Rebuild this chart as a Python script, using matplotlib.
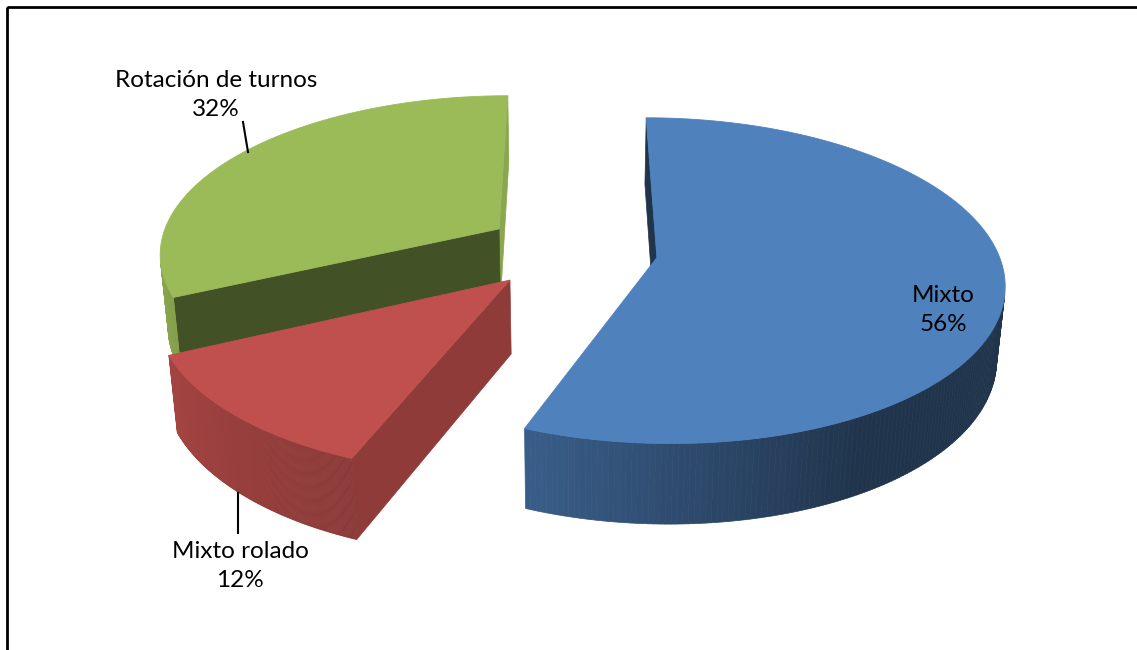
import numpy as np
import matplotlib
matplotlib.use("Agg")
import matplotlib.pyplot as plt
from matplotlib.patches import Polygon, Rectangle
from matplotlib.colors import to_rgb

# data
labels = ["Mixto", "Mixto rolado", "Rotación de turnos"]
values = [56, 12, 32]
colors = ["#4F81BD", "#C0504D", "#9BBB59"]

# 3d view settings (pixels)
ELEV = np.radians(29.5)
DIST = 6.3
SCALE = 334
HEIGHT = 0.245
EXPLODE = 0.255
CX, CY = 571, 250
F = SCALE * DIST
CY0 = CY + F * HEIGHT * np.cos(ELEV) / (DIST - HEIGHT * np.sin(ELEV))


def project(u, v, z):
    depth = DIST + v * np.cos(ELEV) - z * np.sin(ELEV)
    x = CX + F * u / depth
    y = CY0 - F * (v * np.sin(ELEV) + z * np.cos(ELEV)) / depth
    return x, y, depth


def wall_shade(phi):
    phi = (phi + 180) % 360 - 180
    return np.interp(phi, [-180, -110, -60, 60, 180], [0.93, 0.72, 0.40, 0.40, 0.93])


def cut_shade(phi):
    phi = (phi + 180) % 360 - 180
    return np.interp(phi, [-180, -65, 0, 90, 180], [0.40, 0.43, 0.89, 0.6, 0.40])


def shade(col, f):
    return tuple(min(1, c * f) for c in to_rgb(col))


def face(pts):
    pts = np.array(pts)
    x, y, d = project(pts[:, 0], pts[:, 1], pts[:, 2])
    # signed area with y pointing up
    yu = -y
    area = 0.5 * np.sum(x * np.roll(yu, -1) - np.roll(x, -1) * yu)
    return np.column_stack([x, y]), area, d.mean()


fig = plt.figure(figsize=(11.37, 6.5), dpi=100)
ax = fig.add_axes([0, 0, 1, 1])
ax.set_xlim(0, 1137)
ax.set_ylim(650, 0)
ax.axis("off")

# slice angles, first slice starts at 12 o'clock and runs clockwise
total = sum(values)
starts = 90 - 360 * np.concatenate([[0], np.cumsum(values)[:-1]]) / total
ends = starts - 360 * np.array(values) / total

slices = []
for i in range(len(values)):
    a0, a1 = np.radians(ends[i]), np.radians(starts[i])
    mid = (a0 + a1) / 2
    ox, oy = EXPLODE * np.cos(mid), EXPLODE * np.sin(mid)
    slices.append((oy, i, a0, a1, ox))

# far slices first
for oy, i, a0, a1, ox in sorted(slices, reverse=True):
    col = colors[i]
    faces = []
    t = np.linspace(a0, a1, 240)
    for k in range(len(t) - 1):
        p = [(ox + np.cos(t[k]), oy + np.sin(t[k]), 0),
             (ox + np.cos(t[k + 1]), oy + np.sin(t[k + 1]), 0),
             (ox + np.cos(t[k + 1]), oy + np.sin(t[k + 1]), HEIGHT),
             (ox + np.cos(t[k]), oy + np.sin(t[k]), HEIGHT)]
        xy, area, d = face(p)
        if area > 0:
            faces.append((d, xy, shade(col, wall_shade(np.degrees((t[k] + t[k + 1]) / 2)))))
    # cut faces
    for a, sign in [(a0, -1), (a1, 1)]:
        cb = (ox, oy, 0)
        ct = (ox, oy, HEIGHT)
        rb = (ox + np.cos(a), oy + np.sin(a), 0)
        rt = (ox + np.cos(a), oy + np.sin(a), HEIGHT)
        p = [cb, rb, rt, ct] if sign < 0 else [cb, ct, rt, rb]
        xy, area, d = face(p)
        if area > 0:
            faces.append((d, xy, shade(col, cut_shade(np.degrees(a) + sign * 90))))
    for d, xy, c in sorted(faces, key=lambda f: -f[0]):
        ax.add_patch(Polygon(xy, closed=True, facecolor=c, edgecolor=c, lw=0.5))
    # top face
    top = [(ox, oy, HEIGHT)] + [(ox + np.cos(a), oy + np.sin(a), HEIGHT) for a in t]
    xy, area, d = face(top)
    ax.add_patch(Polygon(xy, closed=True, facecolor=col, edgecolor=col, lw=0.6))

# labels
font = dict(family=["Lato", "DejaVu Sans"], fontsize=17.5, color="black",
            ha="center", va="center", linespacing=1.5)
pct = [f"{v}%" for v in values]
ax.text(943, 310, f"{labels[0]}\n{pct[0]}", **font)
ax.text(240, 566, f"{labels[1]}\n{pct[1]}", **font)
ax.text(216, 95, f"{labels[2]}\n{pct[2]}", **font)
ax.plot([238, 238], [493, 533], color="black", lw=1.5)
ax.plot([243, 248], [122, 152], color="black", lw=1.5)

# chart frame
ax.add_patch(Rectangle((6.5, 7), 1200, 700, fill=False, edgecolor="black", lw=2))

fig.savefig("out.png", dpi=100)
